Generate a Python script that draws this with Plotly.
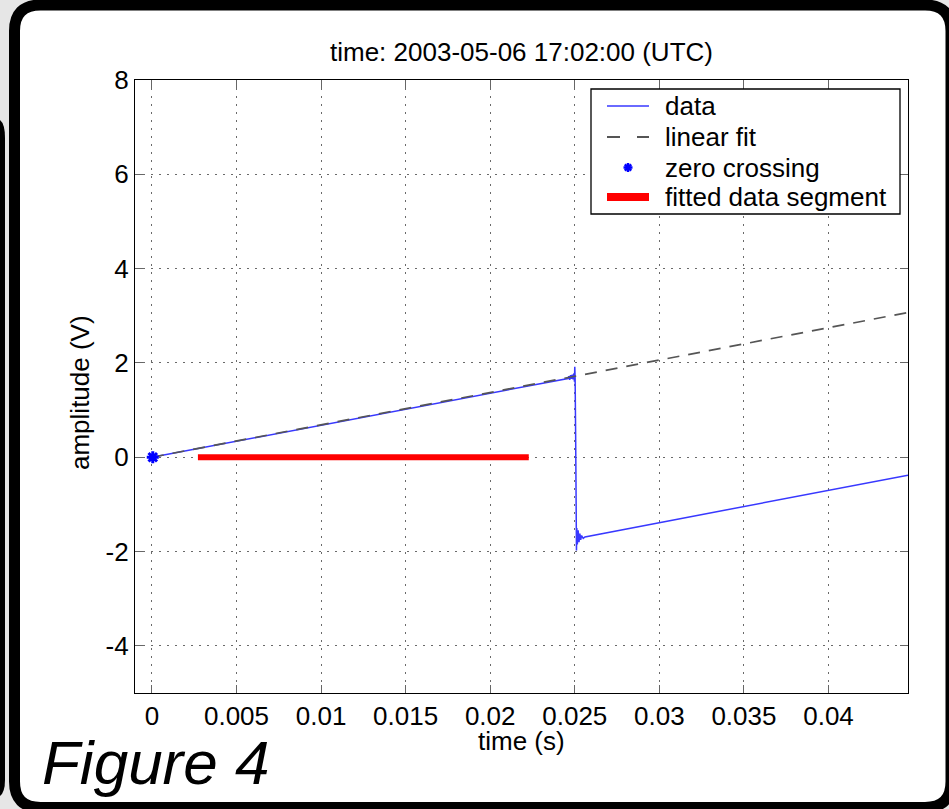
import plotly.graph_objects as go

# ---------------- data ----------------
data_t = [0.0, 0.0245, 0.0246, 0.02465, 0.0247, 0.02475, 0.0248, 0.02485, 0.0249,
          0.02495, 0.02498, 0.0250, 0.02502, 0.02505, 0.02508, 0.0251, 0.02512,
          0.02515, 0.0252, 0.02525, 0.0253, 0.02535, 0.0254, 0.0255, 0.0256, 0.0447]
data_v = [0.0, 1.67, 1.67, 1.72, 1.64, 1.74, 1.66, 1.75, 1.65,
          1.78, 1.60, 1.92, 1.70, 0.50, -1.00, -1.98, -1.50,
          -1.85, -1.55, -1.80, -1.62, -1.75, -1.66, -1.72, -1.69, -0.38]

fit_t = [0.0, 0.0447]
fit_v = [0.0, 3.07]

zero_t = [0.00005]
zero_v = [0.0]

seg_t = [0.00272, 0.02228]
seg_v = [0.0, 0.0]

x_ticks = [0, 0.005, 0.01, 0.015, 0.02, 0.025, 0.03, 0.035, 0.04]
x_ticktext = ["0", "0.005", "0.01", "0.015", "0.02", "0.025", "0.03", "0.035", "0.04"]
y_ticks = [-4, -2, 0, 2, 4, 6, 8]
y_ticktext = ["-4", "-2", "0", "2", "4", "6", "8"]

legend_names = ["data", "linear fit", "zero crossing", "fitted data segment"]

title_text = "time: 2003-05-06 17:02:00 (UTC)"
xlabel = "time (s)"
ylabel = "amplitude (V)"

# ---------------- layout geometry (pixels) ----------------
W, H = 949, 809
L, R, T, B = 135, 908, 80, 693
PW, PH = R - L, B - T

DATA_COLOR = "#3838ff"
FIT_COLOR = "#555555"
ZERO_COLOR = "blue"
SEG_COLOR = "#ff0000"
FONT = "Liberation Sans, Arial, Helvetica, sans-serif"
FS = 26


def X(px):
    return (px - L) / PW


def Y(py):
    return (B - py) / PH


def rounded_path(x0, y0, x1, y1, r):
    s = f"M {X(x0 + r)},{Y(y0)} L {X(x1 - r)},{Y(y0)} "
    s += f"Q {X(x1)},{Y(y0)} {X(x1)},{Y(y0 + r)} "
    s += f"L {X(x1)},{Y(y1 - r)} Q {X(x1)},{Y(y1)} {X(x1 - r)},{Y(y1)} "
    s += f"L {X(x0 + r)},{Y(y1)} Q {X(x0)},{Y(y1)} {X(x0)},{Y(y1 - r)} "
    s += f"L {X(x0)},{Y(y0 + r)} Q {X(x0)},{Y(y0)} {X(x0 + r)},{Y(y0)} Z"
    return s


def pline(x0, y0, x1, y1, color, width):
    return dict(type="line", xref="paper", yref="paper",
                x0=X(x0), y0=Y(y0), x1=X(x1), y1=Y(y1),
                line=dict(color=color, width=width))


fig = go.Figure()

fig.add_trace(go.Scatter(x=data_t, y=data_v, mode="lines", name=legend_names[0],
                         showlegend=False, line=dict(color=DATA_COLOR, width=1.5)))
fig.add_trace(go.Scatter(x=fit_t, y=fit_v, mode="lines", name=legend_names[1],
                         showlegend=False,
                         line=dict(color=FIT_COLOR, width=1.7, dash="12px,9px")))
fig.add_trace(go.Scatter(x=zero_t, y=zero_v, mode="markers", name=legend_names[2],
                         showlegend=False,
                         marker=dict(symbol="asterisk-open", size=10, color=ZERO_COLOR,
                                     line=dict(color=ZERO_COLOR, width=3))))
fig.add_trace(go.Scatter(x=seg_t, y=seg_v, mode="lines", name=legend_names[3],
                         showlegend=False, line=dict(color=SEG_COLOR, width=6)))

shapes = [
    # outer frame (white panel with thick black rounded border)
    dict(type="path", xref="paper", yref="paper", layer="below",
         path=rounded_path(14.5, 5, 951, 807.5, 26),
         fillcolor="white", line=dict(color="black", width=11)),
    # dark bar at the far left (edge of another frame)
    dict(type="path", xref="paper", yref="paper", layer="below",
         path=f"M {X(-5)},{Y(120)} L {X(0)},{Y(120)} Q {X(5)},{Y(124)} {X(5)},{Y(138)} "
              f"L {X(5)},{Y(780)} Q {X(5)},{Y(792)} {X(0)},{Y(796)} L {X(-5)},{Y(796)} Z",
         fillcolor="black", line=dict(width=0)),
]

# ---------------- legend (drawn by hand to match box geometry) ----------------
LG_X0, LG_X1, LG_Y0, LG_Y1 = 591, 900, 89, 214
shapes.append(dict(type="rect", xref="paper", yref="paper",
                   x0=X(LG_X0), x1=X(LG_X1), y0=Y(LG_Y1), y1=Y(LG_Y0),
                   fillcolor="white", line=dict(color="black", width=1.3)))
entry_y = [106, 137, 167.5, 197]
sx0, sx1, smid = 607, 649, 628
shapes.append(pline(sx0, entry_y[0], sx1, entry_y[0], DATA_COLOR, 1.5))
shapes.append(pline(sx0, entry_y[1], 620, entry_y[1], FIT_COLOR, 2))
shapes.append(pline(637, entry_y[1], sx1, entry_y[1], FIT_COLOR, 2))
# asterisk symbol
a = 4.5
d = 3.2
shapes.append(pline(smid - a, entry_y[2], smid + a, entry_y[2], ZERO_COLOR, 2.5))
shapes.append(pline(smid, entry_y[2] - a, smid, entry_y[2] + a, ZERO_COLOR, 2.5))
shapes.append(pline(smid - d, entry_y[2] - d, smid + d, entry_y[2] + d, ZERO_COLOR, 2.5))
shapes.append(pline(smid - d, entry_y[2] + d, smid + d, entry_y[2] - d, ZERO_COLOR, 2.5))
shapes.append(pline(sx0, entry_y[3], sx1, entry_y[3], SEG_COLOR, 8))

annotations = [
    dict(text=title_text, x=0.5, y=Y(52), xref="paper", yref="paper",
         xanchor="center", yanchor="middle", showarrow=False,
         font=dict(family=FONT, size=FS, color="black")),
    dict(text=xlabel, x=0.5, y=Y(741), xref="paper", yref="paper",
         xanchor="center", yanchor="middle", showarrow=False,
         font=dict(family=FONT, size=FS, color="black")),
    dict(text=ylabel, x=X(80), y=Y(393), xref="paper", yref="paper",
         xanchor="center", yanchor="middle", showarrow=False, textangle=-90,
         font=dict(family=FONT, size=FS, color="black")),
    dict(text="<i>Figure 4</i>", x=X(40), y=Y(762), xref="paper", yref="paper",
         xanchor="left", yanchor="middle", showarrow=False,
         font=dict(family=FONT, size=62, color="black")),
]
for name, ey in zip(legend_names, entry_y):
    annotations.append(dict(text=name, x=X(663), y=Y(ey), xref="paper", yref="paper",
                            xanchor="left", yanchor="middle", showarrow=False,
                            font=dict(family=FONT, size=FS, color="black")))

axis_common = dict(
    showline=True, linecolor="black", linewidth=1.2, mirror="ticks",
    ticks="inside", ticklen=8, tickcolor="#666666", tickwidth=1.2,
    showgrid=True, gridcolor="#6a6a6a", gridwidth=1, griddash="2px,6px",
    zeroline=False, tickfont=dict(family=FONT, size=FS, color="black"),
)

fig.update_layout(
    width=W, height=H,
    margin=dict(l=L, r=W - R, t=T, b=H - B, pad=0),
    paper_bgcolor="#e6e6e6", plot_bgcolor="white",
    showlegend=False,
    shapes=shapes,
    annotations=annotations,
    xaxis=dict(range=[-0.001, 0.0447], tickvals=x_ticks, ticktext=x_ticktext, **axis_common),
    yaxis=dict(range=[-5, 8], tickvals=y_ticks, ticktext=y_ticktext, **axis_common),
)

fig.write_html("out.html")
